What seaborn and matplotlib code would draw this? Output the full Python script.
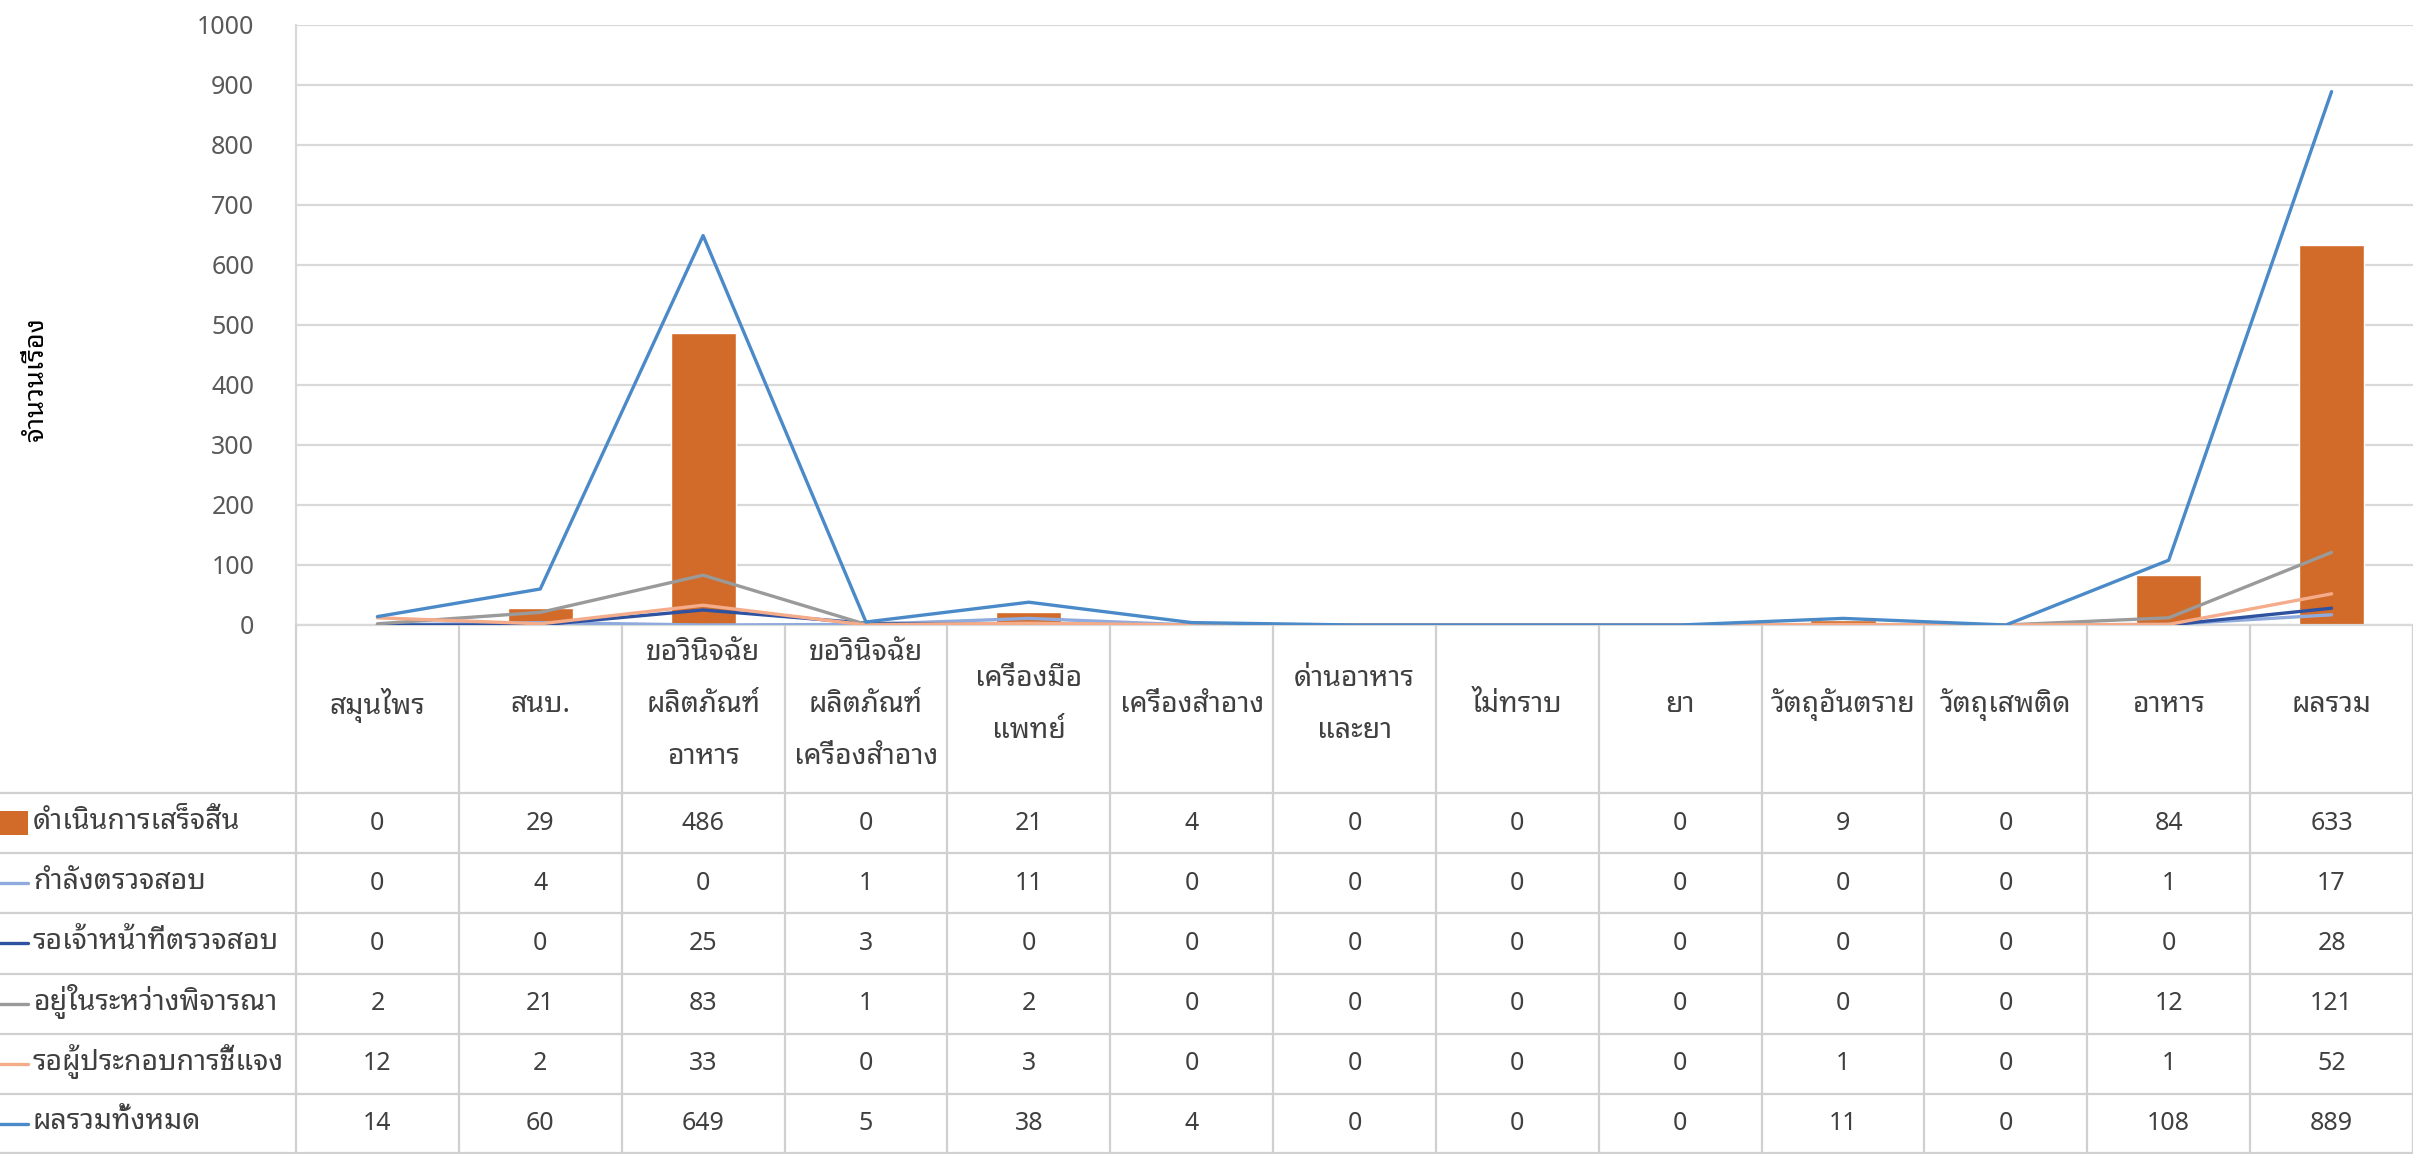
import numpy as np
import pandas as pd
import seaborn as sns
import matplotlib
matplotlib.use("Agg")
import matplotlib.pyplot as plt
from matplotlib import font_manager

categories = [
    ["สมุนไพร"], ["สนบ."], ["ขอวินิจฉัย", "ผลิตภัณฑ์", "อาหาร"],
    ["ขอวินิจฉัย", "ผลิตภัณฑ์", "เครื่องสำอาง"], ["เครื่องมือ", "แพทย์"],
    ["เครื่องสำอาง"], ["ด่านอาหาร", "และยา"], ["ไม่ทราบ"], ["ยา"],
    ["วัตถุอันตราย"], ["วัตถุเสพติด"], ["อาหาร"], ["ผลรวม"],
]
done = [0, 29, 486, 0, 21, 4, 0, 0, 0, 9, 0, 84, 633]
checking = [0, 4, 0, 1, 11, 0, 0, 0, 0, 0, 0, 1, 17]
waiting_staff = [0, 0, 25, 3, 0, 0, 0, 0, 0, 0, 0, 0, 28]
considering = [2, 21, 83, 1, 2, 0, 0, 0, 0, 0, 0, 12, 121]
waiting_operator = [12, 2, 33, 0, 3, 0, 0, 0, 0, 1, 0, 1, 52]
total = [14, 60, 649, 5, 38, 4, 0, 0, 0, 11, 0, 108, 889]

series_names = ["ดำเนินการเสร็จสิ้น", "กำลังตรวจสอบ", "รอเจ้าหน้าที่ตรวจสอบ",
                "อยู่ในระหว่างพิจารณา", "รอผู้ประกอบการชี้แจง", "ผลรวมทั้งหมด"]
series_values = [done, checking, waiting_staff, considering, waiting_operator, total]
colors = ["#D26B29", "#8FAADC", "#2F52A0", "#9A9A9A", "#F4AC8A", "#4A8AC8"]
y_label = "จำนวนเรื่อง"

sns.set_theme(style="white")
names = {f.name for f in font_manager.fontManager.ttflist}
thai = next((p for p in ["Noto Sans Thai Looped", "IBM Plex Sans Thai Looped",
                         "Noto Sans Thai", "Sarabun", "IBM Plex Sans Thai"] if p in names),
            "FreeSerif")
plt.rcParams["font.family"] = [thai, "DejaVu Sans"]

W, H = 2413, 1154
left_px, top_px, zero_px = 296, 25, 625
n = len(categories)
colw = (W - left_px) / n
txt_color = "#404040"
fs_num = 18     # digits
fs_thai = 20.5  # thai labels (the thai glyphs of this font run narrow)

fig = plt.figure(figsize=(W / 100, H / 100), dpi=100)
ax = fig.add_axes([left_px / W, 1 - zero_px / H, (W - left_px) / W, (zero_px - top_px) / H])

x = np.arange(n)
bar_df = pd.DataFrame({"x": x, "v": done})
sns.barplot(data=bar_df, x="x", y="v", color=colors[0], width=0.4, saturation=1,
            ax=ax, zorder=2, native_scale=True)

line_df = pd.DataFrame({
    "x": np.tile(x, 5),
    "v": np.concatenate(series_values[1:]),
    "s": np.repeat(series_names[1:], n),
})
sns.lineplot(data=line_df, x="x", y="v", hue="s", hue_order=series_names[1:],
             palette=dict(zip(series_names[1:], colors[1:])), linewidth=2.4,
             sort=False, legend=False, ax=ax, zorder=3)

ax.set_xlim(-0.5, n - 0.5)
ax.set_ylim(0, 1000)
ax.set_yticks(range(0, 1001, 100))
ax.set_xticks([])
ax.set_xlabel("")
ax.set_ylabel("")
ax.tick_params(axis="y", length=0, pad=30, labelsize=fs_num, labelcolor="#595959")
ax.yaxis.grid(True, color="#D9D9D9", linewidth=1.6)
ax.set_axisbelow(True)
for s in ["top", "right"]:
    ax.spines[s].set_visible(False)
for s in ["left", "bottom"]:
    ax.spines[s].set_color("#D9D9D9")
    ax.spines[s].set_linewidth(1.6)

fig.text(36 / W, 1 - 380 / H, y_label, rotation=90, ha="center", va="center",
         fontsize=19.5, fontweight="bold", color="black")

# data table under the chart, y measured in pixels from the top
tax = fig.add_axes([0, 0, 1, (H - zero_px) / H])
x_left = -0.5 - left_px / colw
tax.set_xlim(x_left, n - 0.5)
tax.set_ylim(H, zero_px)
tax.axis("off")

grid_c = "#D0D0D0"
header_bottom = 793
row_h = (H - header_bottom) / 6
for k in range(n + 1):
    tax.plot([k - 0.5, k - 0.5], [zero_px, H], color=grid_c, lw=1.6)
for r in range(7):
    yy = min(header_bottom + r * row_h, H - 1)
    tax.plot([x_left, n - 0.5], [yy, yy], color=grid_c, lw=1.6)

header_mid = 705
for i, lines in enumerate(categories):
    for j, line in enumerate(lines):
        yy = header_mid + (j - (len(lines) - 1) / 2) * 52
        tax.text(i, yy, line, ha="center", va="center", fontsize=fs_thai, color=txt_color)

key_w = 28 / colw
for r, (name, vals, c) in enumerate(zip(series_names, series_values, colors)):
    yc = header_bottom + (r + 0.5) * row_h
    if r == 0:
        tax.fill_between([x_left, x_left + key_w], yc - 12, yc + 12, color=c, lw=0)
    else:
        tax.plot([x_left, x_left + key_w], [yc, yc], color=c, lw=2.4)
    tax.text(x_left + 33 / colw, yc - 2, name, ha="left", va="center",
             fontsize=fs_thai, color=txt_color)
    for i, v in enumerate(vals):
        tax.text(i, yc, str(v), ha="center", va="center", fontsize=fs_num, color=txt_color)

fig.savefig("out.png", dpi=100)
